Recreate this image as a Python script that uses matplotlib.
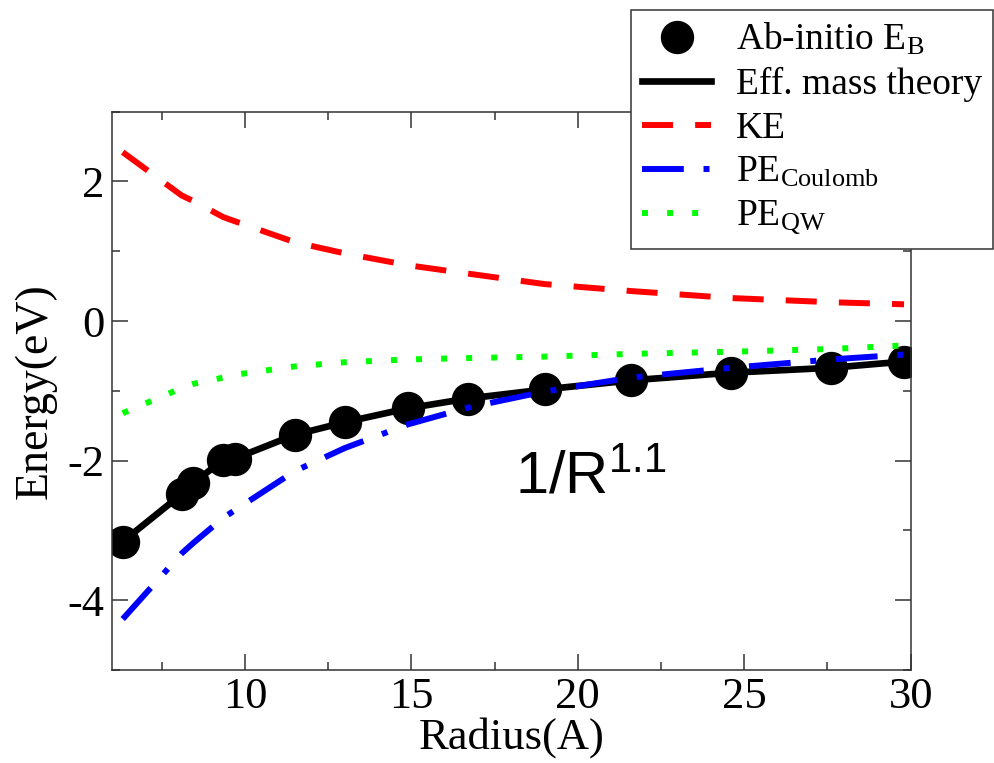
import numpy as np
import matplotlib
matplotlib.use("Agg")
import matplotlib.pyplot as plt
from matplotlib.ticker import MultipleLocator

# values
radius = [6.33, 8.1, 8.45, 9.35, 9.7, 11.5, 13.0, 14.9, 16.7, 19.0, 21.6, 24.6, 27.6, 29.8]
ab_initio = [-3.16, -2.48, -2.32, -1.99, -1.97, -1.63, -1.45, -1.25, -1.11, -0.98, -0.85, -0.74, -0.67, -0.58]
eff_mass = [-3.16, -2.48, -2.32, -1.99, -1.97, -1.63, -1.45, -1.25, -1.11, -0.98, -0.85, -0.74, -0.67, -0.58]
ke = [2.42, 1.80, 1.72, 1.49, 1.43, 1.13, 0.97, 0.80, 0.68, 0.53, 0.43, 0.33, 0.27, 0.24]
pe_coulomb = [-4.27, -3.33, -3.18, -2.82, -2.71, -2.15, -1.82, -1.48, -1.24, -1.01, -0.81, -0.67, -0.55, -0.48]
pe_qw = [-1.32, -0.96, -0.90, -0.81, -0.77, -0.65, -0.59, -0.55, -0.53, -0.51, -0.47, -0.44, -0.40, -0.35]

labels = ["Ab-initio E$_{B}$", "Eff. mass theory", "KE", "PE$_{Coulomb}$", "PE$_{QW}$"]

plt.rcParams['font.family'] = ['Liberation Serif', 'DejaVu Serif']
plt.rcParams['mathtext.default'] = 'regular'
plt.rcParams['axes.unicode_minus'] = False

fig = plt.figure(figsize=(9.94, 7.63), dpi=100)
ax = fig.add_axes([0.1124, 0.1219, 0.8038, 0.7317])

lw = 4.3
ax.plot(radius, ab_initio, 'o', color='black', markersize=23, label=labels[0])
ax.plot(radius, eff_mass, '-', color='black', lw=lw + 0.5, label=labels[1])
ax.plot(radius, ke, color='#ff0000', lw=lw, linestyle=(0, (5.2, 3.7)), label=labels[2])
ax.plot(radius, pe_coulomb, color='#0000ff', lw=lw,
        linestyle=(0, (7, 3.3, 1, 3.3)), label=labels[3])
ax.plot(radius, pe_qw, color='#00ff00', lw=lw, linestyle=(0, (1, 3.2)), label=labels[4])

ax.text(18.1, -2.48, "1/R$^{1.1}$", fontsize=43, family='Liberation Sans',
        va='baseline', ha='left')

ax.set_xlim(6, 30)
ax.set_ylim(-5, 3)
ax.xaxis.set_major_locator(MultipleLocator(5))
ax.xaxis.set_minor_locator(MultipleLocator(2.5))
ax.yaxis.set_major_locator(MultipleLocator(2))
ax.yaxis.set_minor_locator(MultipleLocator(1))
ax.tick_params(which='both', direction='in', top=True, right=True,
               labelsize=32, width=1.1, color='#333333')
ax.tick_params(which='major', length=11.5, pad=5)
ax.tick_params(which='minor', length=5.8)
for s in ax.spines.values():
    s.set_linewidth(1.1)
    s.set_color('#333333')

ax.set_xlabel("Radius(A)", fontsize=32, labelpad=0)
ax.set_ylabel("Energy(eV)", fontsize=33, labelpad=8)

leg = ax.legend(loc='upper right', bbox_to_anchor=(993 / 994, 1 - 10 / 763),
                bbox_transform=fig.transFigure, fontsize=27, frameon=True,
                fancybox=False, framealpha=1, edgecolor='#333333',
                handlelength=1.85, handletextpad=0.65, borderpad=0.3,
                labelspacing=0.25, borderaxespad=0, numpoints=1)
leg.get_frame().set_linewidth(1.1)
leg.set_zorder(5)

fig.savefig("out.png", dpi=100)
